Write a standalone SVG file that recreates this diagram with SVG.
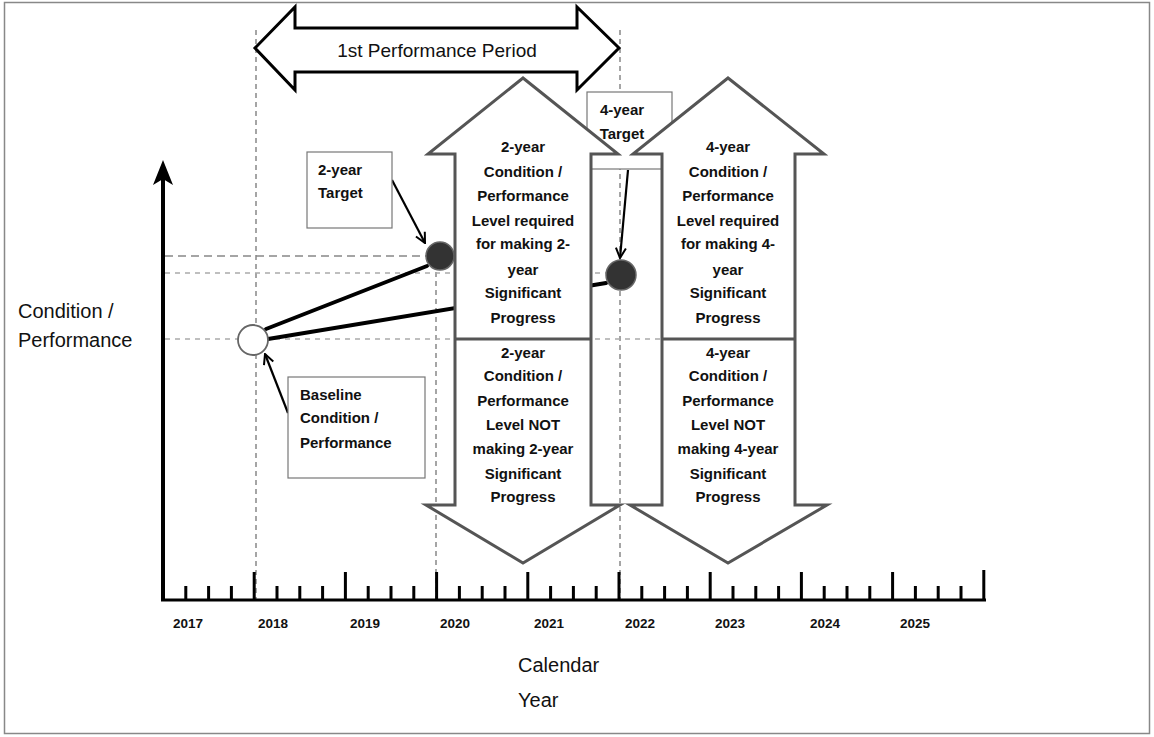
<svg xmlns="http://www.w3.org/2000/svg" width="1154" height="737" viewBox="0 0 1154 737">
<style>
text{font-family:"Liberation Sans",Arial,sans-serif;fill:#111}
.b{font-weight:bold;font-size:15px}
.c{text-anchor:middle}
.yr{font-weight:bold;font-size:13.5px;text-anchor:middle}
.lbl{font-size:20px}
.bigarrow{fill:#fff;stroke:#555;stroke-width:3;stroke-linejoin:miter}
.div{stroke:#555;stroke-width:3}
.box{fill:#fff;stroke:#777;stroke-width:1.2}
.vd{stroke:#888;stroke-width:1.5;stroke-dasharray:5 4;fill:none}
.hd1{stroke:#888;stroke-width:1.5;stroke-dasharray:8 5;fill:none}
.hd2{stroke:#aaa;stroke-width:1.5;stroke-dasharray:5 5;fill:none}
.thick{stroke:#000;stroke-width:4;stroke-linecap:round;fill:none}
.ptr{stroke:#000;stroke-width:2.2;fill:none;marker-end:url(#vee)}
</style>
<defs>
<marker id="vee" viewBox="0 0 12 12" refX="11" refY="6" markerWidth="12" markerHeight="12" markerUnits="userSpaceOnUse" orient="auto"><path d="M1,1 L11,6 L1,11" fill="none" stroke="#000" stroke-width="2"/></marker>
</defs>
<rect x="4.5" y="2.5" width="1145" height="731" fill="#fff" stroke="#888" stroke-width="1.5"/>

<g id="guides">
<line class="vd" x1="256" y1="30" x2="256" y2="600"/>
<line class="vd" x1="436" y1="272" x2="436" y2="600"/>
<line class="vd" x1="620" y1="30" x2="620" y2="600"/>
<line class="hd1" x1="165" y1="256" x2="455" y2="256"/>
<line class="hd2" x1="165" y1="273" x2="620" y2="273"/>
<line class="hd2" x1="165" y1="339" x2="795" y2="339"/>
</g>

<g id="period">
<polygon points="255,48 295,7 295,28 577,28 577,7 619,48 577,90 577,72 295,72 295,90" fill="#fff" stroke="#000" stroke-width="3" stroke-linejoin="miter"/>
<text x="437" y="57" class="c" font-size="19">1st Performance Period</text>
</g>

<g id="target4-box">
<rect class="box" x="587" y="92" width="85" height="77"/>
</g>

<g id="connectors">
<line class="thick" x1="266" y1="329" x2="427" y2="266"/>
<line class="thick" x1="268" y1="339" x2="606" y2="283"/>
<line class="ptr" x1="392" y1="180" x2="425" y2="243"/>
<line class="ptr" x1="288" y1="413" x2="265" y2="354"/>
<line class="ptr" x1="628" y1="170" x2="620" y2="258"/>
</g>

<g id="dot2">
<circle cx="440" cy="256" r="14" fill="#333" stroke="#666" stroke-width="1.5"/>
</g>
<g id="dot4">
<circle cx="621" cy="275" r="15" fill="#333" stroke="#666" stroke-width="1.5"/>
</g>

<g id="arrow2">
<polygon class="bigarrow" points="523,78 618,154 591,154 591,505 620,505 523,563 426,505 455,505 455,154 428,154"/>
<line class="div" x1="455" y1="339" x2="591" y2="339"/>
<text class="b c" x="523" y="152">2-year</text>
<text class="b c" x="523" y="177">Condition /</text>
<text class="b c" x="523" y="201">Performance</text>
<text class="b c" x="523" y="226">Level required</text>
<text class="b c" x="523" y="249">for making 2-</text>
<text class="b c" x="523" y="275">year</text>
<text class="b c" x="523" y="298">Significant</text>
<text class="b c" x="523" y="323">Progress</text>
<text class="b c" x="523" y="358">2-year</text>
<text class="b c" x="523" y="381">Condition /</text>
<text class="b c" x="523" y="406">Performance</text>
<text class="b c" x="523" y="430">Level NOT</text>
<text class="b c" x="523" y="454">making 2-year</text>
<text class="b c" x="523" y="479">Significant</text>
<text class="b c" x="523" y="502">Progress</text>
</g>

<g id="arrow4">
<polygon class="bigarrow" points="728,78 824,154 795,154 795,505 827,505 728,563 630,505 662,505 662,154 633,154"/>
<line class="div" x1="662" y1="339" x2="795" y2="339"/>
<text class="b c" x="728" y="152">4-year</text>
<text class="b c" x="728" y="177">Condition /</text>
<text class="b c" x="728" y="201">Performance</text>
<text class="b c" x="728" y="226">Level required</text>
<text class="b c" x="728" y="249">for making 4-</text>
<text class="b c" x="728" y="275">year</text>
<text class="b c" x="728" y="298">Significant</text>
<text class="b c" x="728" y="323">Progress</text>
<text class="b c" x="728" y="358">4-year</text>
<text class="b c" x="728" y="381">Condition /</text>
<text class="b c" x="728" y="406">Performance</text>
<text class="b c" x="728" y="430">Level NOT</text>
<text class="b c" x="728" y="454">making 4-year</text>
<text class="b c" x="728" y="479">Significant</text>
<text class="b c" x="728" y="502">Progress</text>
</g>

<g id="target4-label">
<text class="b c" x="622" y="115">4-year</text>
<text class="b c" x="622" y="139">Target</text>
</g>

<g id="target2">
<rect class="box" x="307" y="152" width="85" height="76"/>
<text class="b" x="318" y="175">2-year</text>
<text class="b" x="318" y="198">Target</text>
</g>

<g id="baseline-box">
<rect class="box" x="288" y="377" width="137" height="101"/>
<text class="b" x="300" y="400">Baseline</text>
<text class="b" x="300" y="423">Condition /</text>
<text class="b" x="300" y="448">Performance</text>
</g>

<g id="baseline-dot">
<circle cx="253" cy="340" r="15" fill="#fff" stroke="#666" stroke-width="1.8"/>
</g>

<g id="axes">
<line x1="163" y1="600" x2="163" y2="172" stroke="#000" stroke-width="4"/>
<polygon points="163,160 173,185 163,179 153,185" fill="#000"/>
<line x1="161" y1="600" x2="986" y2="600" stroke="#000" stroke-width="3"/>
<path stroke="#000" stroke-width="3" fill="none" d="M185.8 586V600M208.6 586V600M231.4 586V600M277 586V600M299.8 586V600M322.6 586V600M368.2 586V600M391 586V600M413.8 586V600M459.4 586V600M482.2 586V600M505 586V600M550.6 586V600M573.4 586V600M596.2 586V600M641.8 586V600M664.6 586V600M687.4 586V600M733 586V600M755.8 586V600M778.6 586V600M824.2 586V600M847 586V600M869.8 586V600M915.4 586V600M938.2 586V600M961 586V600"/>
<path stroke="#000" stroke-width="3" fill="none" d="M254.2 572V600M345.4 572V600M436.6 572V600M527.8 572V600M619 572V600M710.2 572V600M801.4 572V600M892.6 572V600M983.8 570V600"/>
</g>

<g id="year-labels">
<text class="yr" x="188" y="628">2017</text>
<text class="yr" x="273" y="628">2018</text>
<text class="yr" x="365" y="628">2019</text>
<text class="yr" x="455" y="628">2020</text>
<text class="yr" x="549" y="628">2021</text>
<text class="yr" x="640" y="628">2022</text>
<text class="yr" x="730" y="628">2023</text>
<text class="yr" x="825" y="628">2024</text>
<text class="yr" x="915" y="628">2025</text>
</g>

<g id="axis-titles">
<text class="lbl" x="18" y="318">Condition /</text>
<text class="lbl" x="18" y="347">Performance</text>
<text class="lbl" x="518" y="672">Calendar</text>
<text class="lbl" x="518" y="707">Year</text>
</g>
</svg>
